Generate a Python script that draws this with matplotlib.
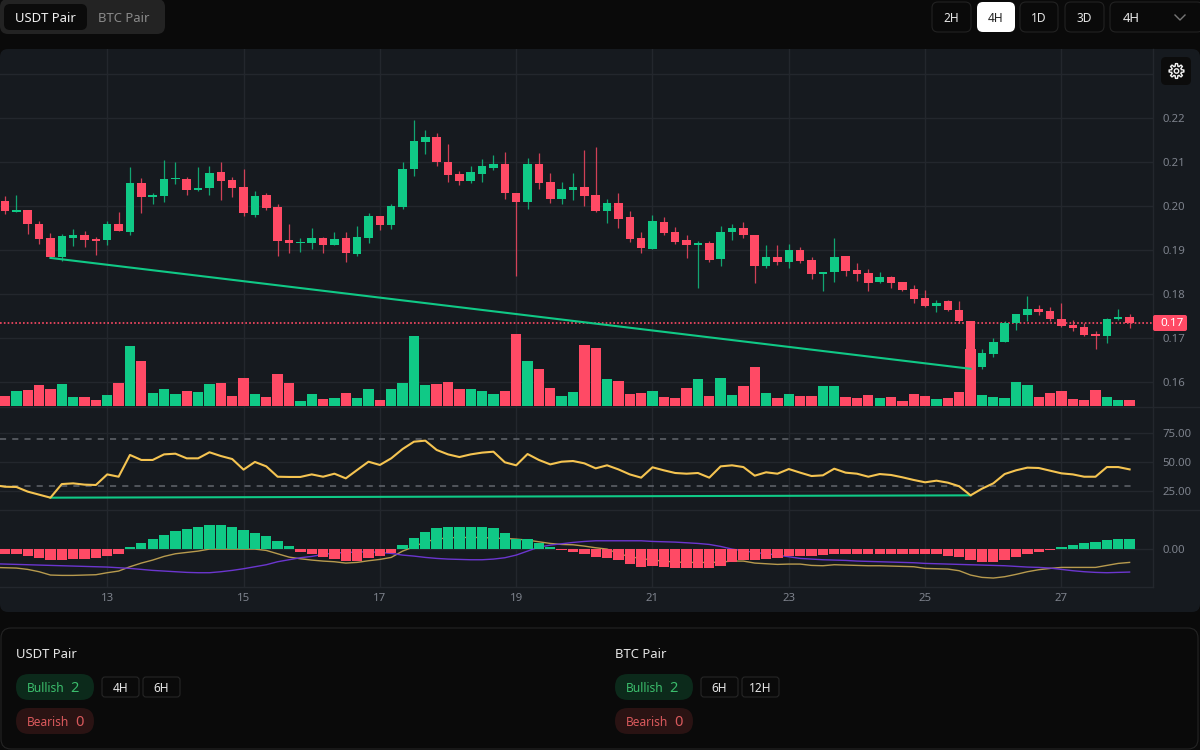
import matplotlib
matplotlib.use('Agg')
import matplotlib.pyplot as plt
import numpy as np
from matplotlib.patches import FancyBboxPatch, Polygon

plt.rcParams['font.family'] = ['Noto Sans', 'DejaVu Sans']

# OHLC, 4H bars
opens = [.2011, .1987, .1990, .1958, .1927, .1883, .1927, .1934, .1924, .1922,
         .1958, .1941, .2052, .2021, .2022, .2061, .2061, .2036, .2041, .2077,
         .2058, .2043, .1980, .2024, .1998, .1922, .1915, .1915, .1928, .1911,
         .1927, .1892, .1928, .1977, .1956, .1997, .2083, .2146, .2156, .2100,
         .2073, .2056, .2073, .2086, .2096, .2030, .2009, .2096, .2054, .2015,
         .2036, .2043, .2026, .1988, .2007, .1975, .1927, .1902, .1964, .1941,
         .1922, .1911, .1917, .1879, .1941, .1949, .1934, .1864, .1883, .1873,
         .1900, .1877, .1845, .1849, .1886, .1855, .1847, .1827, .1838, .1827,
         .1811, .1791, .1772, .1783, .1763, .1738, .1633, .1664, .1691, .1735,
         .1753, .1766, .1761, .1744, .1730, .1725, .1708, .1704, .1744, .1747]
highs = [.2023, .2025, .1991, .1966, .1939, .1936, .1948, .1943, .1930, .1966,
         .1986, .2089, .2063, .2029, .2105, .2099, .2067, .2089, .2092, .2101,
         .2067, .2084, .2033, .2030, .2005, .1958, .1927, .1950, .1930, .1941,
         .1941, .1954, .1983, .1977, .2004, .2099, .2195, .2173, .2165, .2141,
         .2080, .2090, .2106, .2116, .2123, .2030, .2109, .2120, .2075, .2054,
         .2075, .2127, .2133, .2016, .2030, .1988, .1942, .1979, .1975, .1953,
         .1934, .1920, .1920, .1955, .1960, .1964, .1934, .1911, .1911, .1913,
         .1906, .1883, .1851, .1928, .1886, .1870, .1857, .1851, .1842, .1827,
         .1820, .1808, .1786, .1786, .1784, .1738, .1675, .1699, .1739, .1755,
         .1795, .1776, .1770, .1780, .1742, .1735, .1716, .1746, .1766, .1755]
lows = [.1982, .1987, .1936, .1914, .1881, .1875, .1909, .1907, .1889, .1911,
        .1943, .1933, .1983, .2005, .2008, .2050, .2026, .2034, .2026, .2014,
        .2021, .1977, .1974, .1992, .1887, .1894, .1896, .1902, .1894, .1911,
        .1873, .1887, .1917, .1945, .1948, .1994, .2069, .2118, .2092, .2054,
        .2048, .2052, .2054, .2082, .2017, .1842, .1993, .2039, .2007, .2005,
        .2014, .2000, .1986, .1961, .1949, .1919, .1893, .1902, .1934, .1913,
        .1881, .1814, .1873, .1864, .1923, .1927, .1825, .1858, .1866, .1859,
        .1870, .1834, .1806, .1827, .1842, .1830, .1806, .1825, .1814, .1806,
        .1780, .1770, .1759, .1761, .1733, .1630, .1630, .1657, .1691, .1719,
        .1739, .1752, .1739, .1726, .1717, .1704, .1676, .1689, .1741, .1723]
closes = [.1988, .1991, .1958, .1924, .1883, .1932, .1934, .1922, .1921, .1958,
          .1943, .2052, .2020, .2026, .2061, .2064, .2037, .2042, .2075, .2056,
          .2041, .1983, .2023, .1996, .1920, .1915, .1918, .1927, .1911, .1925,
          .1894, .1930, .1977, .1956, .2000, .2083, .2148, .2156, .2099, .2071,
          .2056, .2077, .2090, .2096, .2030, .2009, .2096, .2052, .2017, .2039,
          .2043, .2023, .1988, .2007, .1970, .1926, .1905, .1966, .1939, .1919,
          .1911, .1917, .1877, .1942, .1949, .1934, .1864, .1885, .1872, .1900,
          .1874, .1845, .1851, .1883, .1853, .1845, .1825, .1838, .1825, .1808,
          .1789, .1773, .1780, .1763, .1738, .1633, .1665, .1690, .1735, .1754,
          .1765, .1760, .1744, .1727, .1723, .1706, .1704, .1744, .1747, .1734]
volumes = [31, 45, 48, 62, 51, 65, 28, 28, 17, 34,
           68, 180, 135, 39, 51, 37, 45, 42, 65, 68,
           31, 85, 37, 28, 96, 68, 14, 37, 20, 25,
           39, 25, 51, 17, 51, 68, 209, 62, 65, 71,
           51, 51, 45, 37, 45, 215, 135, 110, 54, 31,
           42, 183, 175, 82, 76, 37, 39, 45, 28, 25,
           54, 82, 31, 85, 34, 59, 116, 39, 23, 37,
           31, 31, 59, 59, 28, 23, 33, 23, 28, 14,
           37, 31, 20, 23, 42, 171, 34, 28, 23, 71,
           62, 28, 39, 45, 20, 17, 48, 28, 17, 17]
# rsi and the two macd lines start one bar earlier, off the left edge
rsi = [30.5, 29.0, 28.8, 24.8, 22.2, 19.6, 31.3, 31.9, 30.8, 30.5, 39.6,
       37.6, 56.3, 52.0, 52.0, 56.8, 57.4, 53.4, 53.4, 58.6, 55.4,
       52.8, 43.7, 50.3, 46.5, 37.6, 37.4, 37.4, 39.6, 37.6, 40.2,
       36.2, 43.4, 50.5, 47.7, 53.4, 61.4, 67.7, 68.6, 60.6, 56.8,
       54.5, 56.8, 58.3, 59.1, 50.0, 47.4, 57.1, 52.0, 48.2, 50.5,
       51.1, 49.1, 44.8, 47.4, 43.9, 39.6, 36.8, 45.7, 43.1, 40.8,
       40.2, 40.8, 36.8, 46.5, 47.4, 45.9, 38.5, 41.4, 40.2, 44.2,
       41.1, 38.2, 38.8, 44.5, 41.1, 40.2, 37.6, 39.9, 39.1, 37.1,
       34.8, 32.8, 34.2, 32.5, 29.4, 21.6, 27.3, 31.9, 39.9, 43.1,
       45.4, 45.1, 42.8, 40.5, 39.6, 37.6, 37.6, 45.9, 45.9, 43.9]
# MACD in units of 1e-5
macd_hist = [-14, -16, -20, -26, -33, -33, -31, -31, -28, -22,
             -16, 6, 18, 31, 43, 54, 60, 66, 71, 71,
             66, 57, 49, 40, 23, 9, -8, -16, -25, -31,
             -36, -36, -28, -22, -11, 12, 34, 51, 63, 66,
             66, 66, 66, 63, 49, 31, 29, 17, 6, -3,
             -8, -16, -25, -28, -33, -45, -53, -51, -53, -56,
             -56, -56, -56, -51, -39, -33, -33, -30, -27, -22,
             -20, -20, -19, -16, -16, -14, -14, -14, -14, -14,
             -14, -16, -16, -20, -23, -33, -39, -39, -33, -25,
             -16, -9, -3, 6, 12, 18, 21, 27, 29, 29]
macd_line = [-55, -56, -57, -61, -68, -78, -79, -79, -78, -77, -71,
             -66, -53, -42, -33, -22, -14, -10, -6, 0, 0,
             0, 0, 0, -4, -14, -24, -29, -33, -36, -38,
             -42, -40, -35, -31, -25, -6, 7, 22, 30, 34,
             35, 35, 35, 33, 32, 30, 27, 22, 17, 14,
             13, 9, 4, 0, -13, -23, -28, -33, -36, -39,
             -40, -40, -40, -39, -36, -36, -42, -44, -46, -45,
             -45, -49, -50, -47, -48, -49, -50, -50, -51, -52,
             -53, -58, -59, -60, -65, -78, -85, -87, -83, -76,
             -68, -62, -58, -55, -55, -55, -55, -49, -43, -40]
signal_line = [-44, -45, -46, -47, -48, -49, -50, -51, -52, -53, -54,
               -56, -58, -61, -64, -66, -68, -70, -71, -71, -68,
               -64, -59, -53, -47, -38, -32, -26, -22, -16, -12,
               -10, -9, -8, -10, -13, -18, -21, -25, -28, -30,
               -31, -32, -32, -30, -26, -18, -6, 6, 12, 16,
               20, 23, 25, 25, 25, 25, 25, 23, 22, 21,
               19, 17, 14, 8, 0, -5, -10, -14, -18, -23,
               -28, -30, -32, -33, -34, -36, -37, -38, -39, -40,
               -41, -43, -44, -45, -46, -47, -48, -49, -50, -52,
               -54, -55, -57, -61, -65, -68, -70, -71, -70, -69]

price_ticks = [.16, .17, .18, .19, .20, .21, .22, .23]
rsi_ticks = [25, 50, 75]
rsi_bands = [30, 70]
day_labels = ['13', '15', '17', '19', '21', '23', '25', '27']
day_bars = [9, 21, 33, 45, 57, 69, 81, 93]
last_price = .1734
price_trend_x = [4, 85]
price_trend_y = [.1882, .1630]
rsi_trend_y = [19.6, 21.6]

GREEN = '#10c986'
RED = '#ff4a65'
PAGE = '#0a0a0a'
PANEL = '#161a1f'
GRID = '#23272d'
TICK = '#7d828c'

W, H = 1200, 750
fig = plt.figure(figsize=(12, 7.5), dpi=100, facecolor=PAGE)


def pane(top, bottom, zorder=1):
    # axes placed by pixel rows, the scale column stays on the right
    ax = fig.add_axes([0, 1 - bottom / H, 1153 / W, (bottom - top) / H], zorder=zorder)
    ax.set_xlim(-0.44, 101.06)
    ax.patch.set_visible(False)
    for s in ax.spines.values():
        s.set_visible(False)
    ax.set_xticks(day_bars)
    ax.set_xticklabels([])
    ax.grid(True, color=GRID, lw=1)
    ax.set_axisbelow(True)
    ax.yaxis.tick_right()
    ax.tick_params(length=0, labelcolor=TICK, labelsize=8.2, pad=6.5)
    return ax


# page furniture
ui = fig.add_axes([0, 0, 1, 1], zorder=0)
ui.set_xlim(0, W)
ui.set_ylim(H, 0)
ui.axis('off')


def box(x0, y0, x1, y1, face, edge='none', r=6, lw=0.8, z=1, target=None):
    p = FancyBboxPatch((x0, y0), x1 - x0, y1 - y0, boxstyle=f'round,pad=0,rounding_size={r}',
                       fc=face, ec=edge, lw=lw, zorder=z)
    (target or ui).add_patch(p)


def label(x, y, s, color='#e6e6e6', size=8.6, ha='center', target=None, **kw):
    (target or ui).text(x, y + 1, s, color=color, fontsize=size, ha=ha, va='center', zorder=5, **kw)


box(0, 49, 1200, 612, PANEL, r=8)
box(0, -1, 165, 34, '#232323', r=8)
box(4, 4, 87, 30, '#0b0b0b', r=6)
label(45, 17, 'USDT Pair', size=9.4, color='#f0f0f0')
label(124, 17, 'BTC Pair', size=9.4, color='#8a8a8a')
for x0, x1, s in [(932, 971, '2H'), (1020, 1058, '1D'), (1065, 1104, '3D')]:
    box(x0, 2, x1, 32, PAGE, '#222222')
    label((x0 + x1) / 2, 17, s)
box(977, 2, 1015, 32, '#ffffff')
label(996, 17, '4H', color='#222222')
box(1110, 2, 1203, 32, PAGE, '#222222')
label(1123, 17, '4H', size=9.4, ha='left')
ui.plot([1175, 1180, 1185], [15, 20, 15], color='#777777', lw=1)

box(1, 628, 1198, 749, PAGE, '#242424', r=10)
for x, name, chips in [(16, 'USDT Pair', [(102, 139, '4H'), (143, 180, '6H')]),
                       (615, 'BTC Pair', [(701, 738, '6H'), (742, 779, '12H')])]:
    label(x, 653, name, size=9.4, ha='left')
    box(x, 674, x + 78, 700, '#0c2a1b', r=13)
    label(x + 11, 687, 'Bullish', color='#3bbd6c', ha='left')
    label(x + 54, 687, '2', color='#3bbd6c', size=10.5, ha='left')
    box(x, 708, x + 78, 734, '#2a1313', r=13)
    label(x + 11, 721, 'Bearish', color='#d9595c', ha='left')
    label(x + 59, 721, '0', color='#d9595c', size=10.5, ha='left')
    for x0, x1, s in chips:
        box(x0, 677, x1, 697, PAGE, '#262626', r=3)
        label((x0 + x1) / 2, 687, s)

# separators between panes
for y in [407, 509.5]:
    ui.plot([0, 1200], [y, y], color=GRID, lw=1, zorder=2)
ui.plot([0, 1153], [586.7, 586.7], color=GRID, lw=1, zorder=2)
ui.plot([1153, 1153], [49, 586.7], color=GRID, lw=1, zorder=2)

x = np.arange(len(closes))
x_lines = np.arange(-1, len(closes))
colors = [GREEN if c >= o else RED for o, c in zip(opens, closes)]
price_limits = (.15432, .23568)

# grid of the price pane sits under the volume bars
grid_ax = pane(49, 407, zorder=1)
grid_ax.set_ylim(price_limits)
grid_ax.set_yticks(price_ticks)
grid_ax.tick_params(labelright=False)

# volume, hidden scale
vol_ax = pane(49, 407, zorder=1.5)
vol_ax.grid(False)
vol_ax.set_xticks([])
vol_ax.set_yticks([])
vol_ax.set_ylim(-3, 1071)
vol_ax.bar(x, volumes, width=0.91, color=colors)

# price
ax = pane(49, 407, zorder=2)
ax.grid(False)
ax.set_ylim(price_limits)
ax.set_yticks(price_ticks)
ax.set_yticklabels(['%.2f' % p if p < .225 else '' for p in price_ticks])
ax.plot([-0.44, 101.06], [last_price, last_price], color=RED, lw=1.2, ls=(0, (1, 1.3)), zorder=2)
ax.vlines(x, lows, highs, colors=colors, lw=0.9, alpha=.8, zorder=3)
body_bottom = np.minimum(opens, closes)
body_height = np.maximum(np.abs(np.array(closes) - np.array(opens)), .0003)
ax.bar(x, body_height, bottom=body_bottom, width=0.75, color=colors, zorder=4)
ax.plot(price_trend_x, price_trend_y, color=GREEN, lw=1.5, zorder=5)

# last price tag
box(1153, 315, 1187, 331, RED, r=2, z=3)
label(1172, 322, '0.17', color='#ffffff', size=8.4, fontweight='bold')

# RSI
rsi_ax = pane(407, 509.5, zorder=2)
rsi_ax.set_ylim(9.44, 97.5)
rsi_ax.set_yticks(rsi_ticks)
rsi_ax.set_yticklabels(['%.2f' % v for v in rsi_ticks])
for band in rsi_bands:
    rsi_ax.plot([-0.44, 99.6], [band, band], color='#62666d', lw=1.1, ls=(0, (4, 4)), zorder=2)
rsi_ax.plot(price_trend_x, rsi_trend_y, color=GREEN, lw=1.5, zorder=3)
rsi_ax.plot(x_lines, rsi, color='#f5c451', lw=1.5, zorder=4)

# MACD
macd_ax = pane(509.5, 586.7, zorder=2)
macd_ax.set_ylim(-113e-5, 119e-5)
macd_ax.set_yticks([0])
macd_ax.set_yticklabels(['0.00'])
macd_ax.plot(x_lines, np.array(macd_line) * 1e-5, color='#b79a4e', lw=1, zorder=2)
macd_ax.plot(x_lines, np.array(signal_line) * 1e-5, color='#6b36cf', lw=1, zorder=2)
macd_ax.bar(x, np.array(macd_hist) * 1e-5, width=0.91, zorder=3,
            color=[GREEN if v >= 0 else RED for v in macd_hist])
macd_ax.set_xticklabels(day_labels, fontweight='medium')
macd_ax.tick_params(axis='x', pad=4.5)

# settings button
top = fig.add_axes([0, 0, 1, 1], zorder=5)
top.set_xlim(0, W)
top.set_ylim(H, 0)
top.axis('off')
box(1161, 57, 1191, 85, '#0c0c0c', r=5, target=top)
angle = np.linspace(0, 2 * np.pi, 97)
radius = 6.2 + 1.2 * np.clip(3 * np.cos(8 * angle), -1, 1)
top.add_patch(Polygon(np.c_[1176.5 + radius * np.cos(angle), 71 + radius * np.sin(angle)],
                      closed=True, fc='none', ec='#f0f0f0', lw=1))
top.add_patch(plt.Circle((1176.5, 71), 2.2, fc='none', ec='#f0f0f0', lw=1))

fig.savefig('out.png', dpi=100, facecolor=PAGE)
